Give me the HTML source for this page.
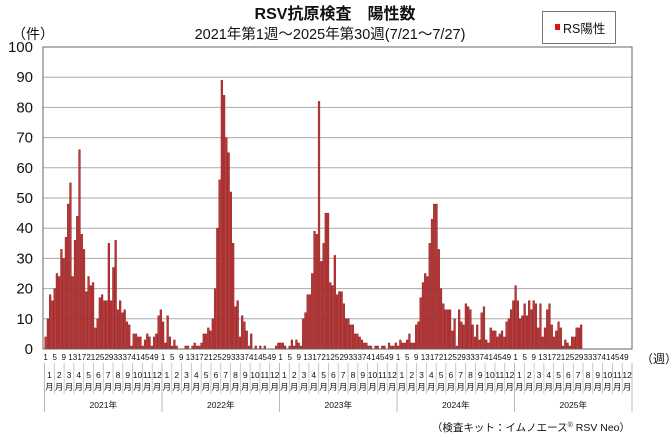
<!DOCTYPE html>
<html><head><meta charset="utf-8">
<style>
body{margin:0;background:#fff;}
svg{display:block;font-family:"Liberation Sans","Noto Sans CJK JP",sans-serif;}
</style></head>
<body>
<svg id="chart" width="670" height="442" viewBox="0 0 670 442" xmlns="http://www.w3.org/2000/svg">
<text x="335" y="19" text-anchor="middle" font-size="16" font-weight="bold" fill="#111">RSV抗原検査　陽性数</text>
<text x="330" y="39" text-anchor="middle" font-size="14.5" fill="#111">2021年第1週～2025年第30週(7/21～7/27)</text>
<text x="12" y="39" font-size="14" fill="#111">（件）</text>
<g>
<rect x="542.5" y="11.5" width="73" height="32" fill="#fff" stroke="#777"/>
<rect x="555" y="24" width="5" height="6" fill="#d11"/>
<text x="563" y="33" font-size="12.5" fill="#111">RS陽性</text>
</g>
<g id="grid"></g>
<g id="bars"></g>
<g id="axes"></g>
<text x="641" y="363" font-size="12" fill="#111">（週）</text>
<text x="630" y="431" text-anchor="end" font-size="10.5" fill="#111">（検査キット：イムノエース<tspan font-size="7" dy="-4">®</tspan><tspan dy="4"> RSV Neo）</tspan></text>
</svg>
<script>
const years = ["2021年","2022年","2023年","2024年","2025年"];
const yTicks = [0,10,20,30,40,50,60,70,80,90,100];
const weekTicks = [1,5,9,13,17,21,25,29,33,37,41,45,49];
const months = ["1","2","3","4","5","6","7","8","9","10","11","12"];
const v2021 = [4,10,18,16,20,25,24,33,30,37,48,55,24,36,44,66,38,33,19,24,21,22,7,10,17,18,16,16,35,16,27,36,13,16,12,13,9,8,1,5,5,4,4,1,3,5,4,1,4,5,11,13];
const v2022 = [9,2,11,4,1,3,1,0,0,0,1,1,0,1,2,1,1,2,5,5,7,6,10,20,40,56,89,84,70,65,52,35,14,16,4,11,9,6,1,5,0,1,0,1,0,1,0,0,0,0,1,2];
const v2023 = [2,2,1,0,1,3,1,3,2,1,10,12,18,18,25,39,38,82,29,35,45,45,22,21,31,18,19,19,15,10,10,8,8,5,5,4,3,2,2,1,1,0,1,1,0,1,1,0,2,1,1,2];
const v2024 = [1,3,2,2,3,5,2,2,8,9,17,22,25,24,35,43,48,48,33,20,15,13,13,13,6,10,1,13,9,8,15,14,13,8,4,8,3,12,14,3,2,7,6,6,4,5,6,4,9,10,13,16];
const v2025 = [21,16,10,11,15,11,16,13,16,15,7,15,4,7,13,15,8,4,6,9,7,1,3,2,1,4,4,7,7,8];
const series = [v2021,v2022,v2023,v2024,v2025];

const NS="http://www.w3.org/2000/svg";
const X0=44.5, X1=632, Y0=349, Y1=47, WEEKS=52;
const yearW=(X1-X0)/years.length, weekW=yearW/WEEKS;
const yS=v=>Y0-(v/100)*(Y0-Y1);
const xW=(yi,w)=>X0+yi*yearW+(w-1)*weekW;
function mk(tag,attrs,parent){const e=document.createElementNS(NS,tag);for(const k in attrs)e.setAttribute(k,attrs[k]);parent.appendChild(e);return e;}
const grid=document.getElementById('grid'),bars=document.getElementById('bars'),axes=document.getElementById('axes');
mk('rect',{x:43,y:Y1,width:X1-43,height:Y0-Y1,fill:'#fff',stroke:'none'},grid);
yTicks.forEach(t=>{
  const y=yS(t);
  if(t>0){const l=mk('line',{x1:43,x2:X1,y1:y,y2:y,stroke:'#aaa','stroke-width':1},grid);
  
  }
  const tx=mk('text',{x:33,y:y+5,'text-anchor':'end','font-size':15,fill:'#111'},axes);
  tx.textContent=t;
  
  
});
series.forEach((vals,yi)=>{
  vals.forEach((v,i)=>{
    if(v<=0)return;
    const r=mk('rect',{x:xW(yi,i+1)+0.2,y:yS(v),width:weekW-0.45,height:Y0-yS(v),fill:'#b8393a',stroke:'#8a1515','stroke-width':0.4},bars);
    
    
  });
});
mk('rect',{x:43,y:Y1,width:X1-43,height:Y0-Y1,fill:'none',stroke:'#666','stroke-width':1},axes);
years.forEach((yr,yi)=>{
  weekTicks.forEach(w=>{
    const t=mk('text',{x:xW(yi,w)+weekW/2,y:360,'text-anchor':'middle','font-size':8,fill:'#111'},axes);
    t.textContent=w;
    
    
  });
  months.forEach((m,mi)=>{
    const mx=X0+yi*yearW+(mi+0.5)*yearW/12;
    const t1=mk('text',{x:mx,y:378,'text-anchor':'middle','font-size':8.5,fill:'#111'},axes);
    t1.textContent=m;
    
    
    const t2=mk('text',{x:mx,y:390,'text-anchor':'middle','font-size':8.5,fill:'#111'},axes);
    t2.textContent='月';
    
    
    if(mi>0){const bx=X0+yi*yearW+mi*yearW/12;
      mk('line',{x1:bx,x2:bx,y1:363,y2:394,stroke:'#bbb','stroke-width':0.8},axes);}
  });
  const yt=mk('text',{x:X0+(yi+0.5)*yearW,y:408,'text-anchor':'middle','font-size':8.5,fill:'#111'},axes);
  yt.textContent=yr;
  
  
});
for(let yi=0;yi<=years.length;yi++){
  const bx=X0+yi*yearW;
  mk('line',{x1:bx,x2:bx,y1:363,y2:412,stroke:'#aaa','stroke-width':0.8},axes);
}
</script>
</body></html>
